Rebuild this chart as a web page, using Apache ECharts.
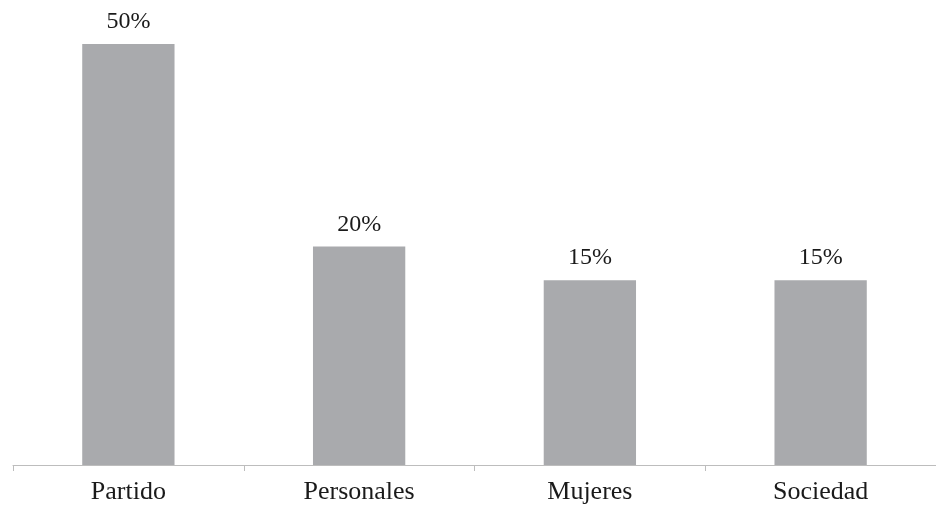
<!DOCTYPE html>
<html><head><meta charset="utf-8">
<script src="https://cdn.jsdelivr.net/npm/echarts@6/dist/echarts.min.js"></script>
<style>html,body{margin:0;padding:0;background:#fff}#c{width:936px;height:505px}</style>
</head><body><div id="c"></div>
<script>
const categories = ["Partido", "Personales", "Mujeres", "Sociedad"];
const values = [50, 20, 15, 15];
const axisStart = -12.4;

const chart = echarts.init(document.getElementById('c'), null, {renderer: 'canvas'});
chart.setOption({
  animation: false,
  grid: {left: 13, right: -2, top: 44, bottom: 40, containLabel: false},
  xAxis: {
    type: 'category', data: categories,
    axisLine: {onZero: false, lineStyle: {color: '#bdbdbd', width: 1}},
    axisTick: {show: true, length: 6, lineStyle: {color: '#bdbdbd'}},
    axisLabel: {fontFamily: 'Liberation Serif', fontSize: 26, color: '#1a1a1a', margin: 14}
  },
  yAxis: {
    type: 'value', min: axisStart, max: 50, startValue: axisStart, show: false,
    splitLine: {show: false}
  },
  series: [{
    type: 'bar', data: values, barWidth: '40%',
    itemStyle: {color: '#a9aaad'},
    label: {show: true, position: 'top', distance: 10, formatter: '{c}%',
      fontFamily: 'Liberation Serif', fontSize: 24, color: '#1a1a1a'}
  }]
});
</script></body></html>
